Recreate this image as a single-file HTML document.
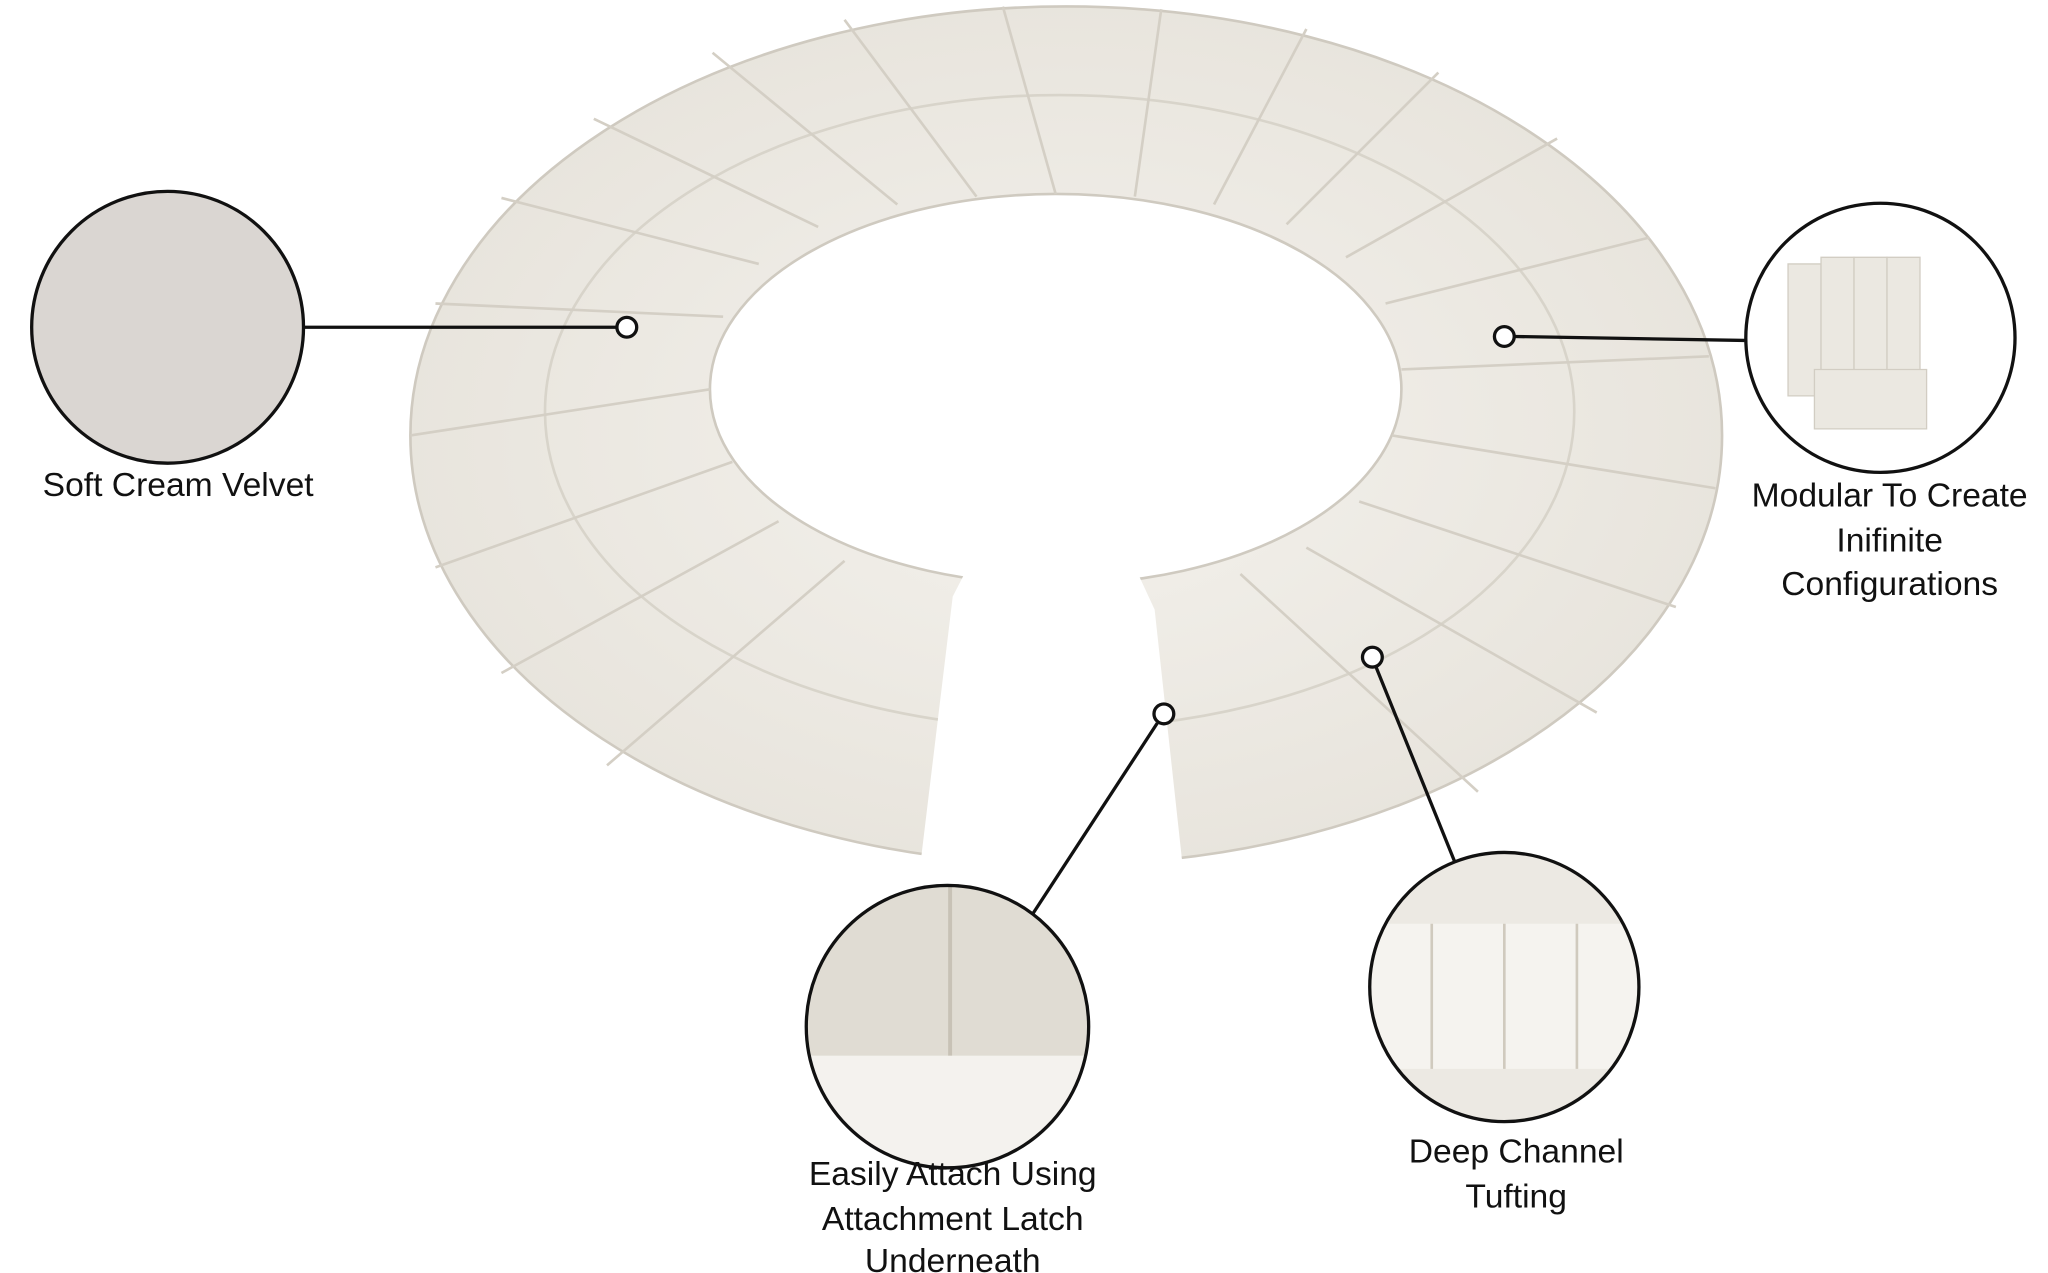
<!DOCTYPE html>
<html><head><meta charset="utf-8"><style>
html,body{margin:0;padding:0;background:#fff;width:2048px;height:1273px;overflow:hidden}
svg{display:block}
text{font-family:"Liberation Sans",sans-serif;font-size:25.5px;fill:#111;text-anchor:middle}
</style></head><body>
<svg width="2048" height="1273" viewBox="0 0 1552 964.7" preserveAspectRatio="none">
<defs>
<clipPath id="gap"><path d="M0 0H1552V965H0Z M800 300 L722 452 L660 965 L930 965 L875 462 Z" clip-rule="evenodd"/></clipPath>
<radialGradient id="g1" cx="0.5" cy="0.5" r="0.6"><stop offset="0" stop-color="#f4f2ed"/><stop offset="1" stop-color="#e6e2da"/></radialGradient>
</defs>
<g clip-path="url(#gap)">
<path fill-rule="evenodd" fill="url(#g1)" stroke="#cfcac0" stroke-width="2"
 d="M311 330 A497 325 0 1 0 1305 330 A497 325 0 1 0 311 330 Z M538 295 A262 148 0 1 0 1062 295 A262 148 0 1 0 538 295 Z"/>
<ellipse cx="803" cy="312" rx="390" ry="240" fill="none" stroke="#d8d4ca" stroke-width="2"/>
<g stroke="#d4cfc5" stroke-width="2">
<line x1="538" y1="295" x2="311" y2="330"/>
<line x1="548" y1="240" x2="330" y2="230"/>
<line x1="575" y1="200" x2="380" y2="150"/>
<line x1="620" y1="172" x2="450" y2="90"/>
<line x1="680" y1="155" x2="540" y2="40"/>
<line x1="740" y1="149" x2="640" y2="15"/>
<line x1="800" y1="147" x2="760" y2="5"/>
<line x1="860" y1="149" x2="880" y2="7"/>
<line x1="920" y1="155" x2="990" y2="22"/>
<line x1="975" y1="170" x2="1090" y2="55"/>
<line x1="1020" y1="195" x2="1180" y2="105"/>
<line x1="1050" y1="230" x2="1250" y2="180"/>
<line x1="1062" y1="280" x2="1295" y2="270"/>
<line x1="1055" y1="330" x2="1300" y2="370"/>
<line x1="1030" y1="380" x2="1270" y2="460"/>
<line x1="990" y1="415" x2="1210" y2="540"/>
<line x1="940" y1="435" x2="1120" y2="600"/>
<line x1="555" y1="350" x2="330" y2="430"/>
<line x1="590" y1="395" x2="380" y2="510"/>
<line x1="640" y1="425" x2="460" y2="580"/>
</g>
</g>
<!-- connector lines -->
<g stroke="#111" stroke-width="2.5" fill="none">
<line x1="230" y1="248" x2="468" y2="248"/>
<line x1="1148" y1="255" x2="1322" y2="258"/>
<line x1="877" y1="548" x2="783" y2="692"/>
<line x1="1043" y1="506" x2="1104" y2="657"/>
</g>
<g fill="#fff" stroke="#111" stroke-width="2.5">
<circle cx="475" cy="248" r="7.5"/><circle cx="1140" cy="255" r="7.5"/>
<circle cx="882" cy="541" r="7.5"/><circle cx="1040" cy="498" r="7.5"/>
</g>
<!-- callout circles -->
<circle cx="127" cy="248" r="103" fill="#dad6d2" stroke="#111" stroke-width="2.5"/>
<circle cx="1425" cy="256" r="102" fill="#fff" stroke="#111" stroke-width="2.5"/>
<g fill="#ebe8e1" stroke="#d2cdc3"><path d="M1355 200 h25 v100 h-25z"/><path d="M1380 195 h25 v105 h-25z"/><path d="M1405 195 h25 v105 h-25z"/><path d="M1430 195 h25 v105 h-25z"/><path d="M1375 280 h85 v45 h-85z"/></g>
<clipPath id="c3"><circle cx="718" cy="778" r="107"/></clipPath>
<g clip-path="url(#c3)"><rect x="600" y="660" width="240" height="240" fill="#f4f2ee"/><rect x="600" y="670" width="240" height="130" fill="#e0dcd3"/><line x1="720" y1="670" x2="720" y2="800" stroke="#c8c2b6" stroke-width="3"/></g>
<circle cx="718" cy="778" r="107" fill="none" stroke="#111" stroke-width="2.5"/>
<clipPath id="c4"><circle cx="1140" cy="748" r="102"/></clipPath>
<g clip-path="url(#c4)"><rect x="1030" y="640" width="220" height="220" fill="#ece9e3"/><rect x="1030" y="700" width="220" height="110" fill="#f5f3ef"/><g stroke="#d0cabe" stroke-width="2"><line x1="1085" y1="700" x2="1085" y2="810"/><line x1="1140" y1="700" x2="1140" y2="810"/><line x1="1195" y1="700" x2="1195" y2="810"/></g></g>
<circle cx="1140" cy="748" r="102" fill="none" stroke="#111" stroke-width="2.5"/>
<!-- labels -->
<text x="135" y="376">Soft Cream Velvet</text>
<text x="1432" y="384">Modular To Create</text>
<text x="1432" y="418">Inifinite</text>
<text x="1432" y="451">Configurations</text>
<text x="722" y="898">Easily Attach Using</text>
<text x="722" y="932">Attachment Latch</text>
<text x="722" y="964">Underneath</text>
<text x="1149" y="881">Deep Channel</text>
<text x="1149" y="915">Tufting</text>
</svg>
</body></html>
